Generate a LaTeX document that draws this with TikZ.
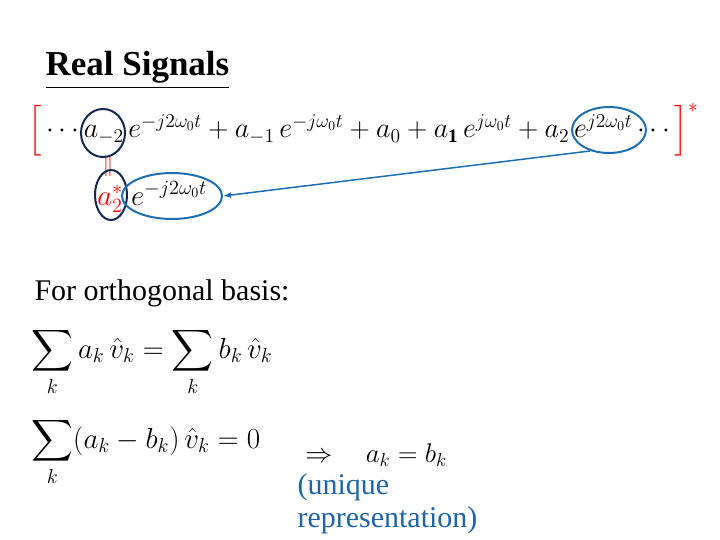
\documentclass[tikz,border=0pt]{standalone}
\usepackage{amsmath}
\usepackage{fontspec}
\setmainfont{Liberation Serif}
\usetikzlibrary{positioning,shapes.geometric,arrows.meta}
\definecolor{ringnavy}{RGB}{20,40,80}
\definecolor{ringblue}{RGB}{30,110,180}
\definecolor{uniqueblue}{RGB}{30,100,170}

\begin{document}
\begin{tikzpicture}[x=1pt,y=-1pt,
    ring/.style={draw,ellipse,line width=2pt,inner sep=0pt},
    eqn/.style={anchor=west,inner sep=0pt,font=\fontsize{20}{24}\selectfont,scale=1.4,transform shape}]
    \useasboundingbox (0,0) rectangle (720,540);

    % Title
    \node[anchor=west,font=\fontsize{35}{40}\selectfont\bfseries] (title) at (42,70) {\underline{Real Signals}};

    % Conjugated series
    \node[eqn,scale=0.97] (series) at (28,130) {$\color{red}\Big[\color{black}\cdots a_{-2}\,e^{-j2\omega_0 t}+a_{-1}\,e^{-j\omega_0 t}+a_0+a_{\mathbf 1}\,e^{j\omega_0 t}+a_2\,e^{j2\omega_0 t}\cdots\color{red}\Big]^*$};
    \node[eqn] (conj) at (97,197) {$\color{red}a_2^*\;\color{black}e^{-j2\omega_0 t}$};
    \node[text=red,font=\fontsize{20}{24}\selectfont] (eq) at (108,166) {$\|$};

    % Rings
    \node[ring,ringnavy,minimum width=44pt,minimum height=48pt] (ringA) at (103,133) {};
    \node[ring,ringblue,minimum width=74pt,minimum height=46pt] (ringB) at (609,130) {};
    \node[ring,ringnavy,minimum width=32pt,minimum height=50pt] (ringC) at (111,195) {};
    \node[ring,ringblue,minimum width=100pt,minimum height=46pt] (ringD) at (172,196) {};
    \draw[ringblue,line width=1.5pt,-{Latex[length=8pt]}] (ringB.south west) ++(8,4) coordinate (tail) -- (ringD.east);

    % Orthogonal basis
    \node[anchor=west,font=\fontsize{30}{34}\selectfont] (orth) at (31,293) {For orthogonal basis:};
    \node[eqn] (sum1) at (31,362) {$\displaystyle\sum_k a_k\,\hat v_k=\sum_k b_k\,\hat v_k$};
    \node[eqn] (sum2) at (31,452) {$\displaystyle\sum_k (a_k-b_k)\,\hat v_k=0$};
    \node[eqn,scale=0.93] (impl) at (305,455) {$\Rightarrow\quad a_k=b_k$};
    \node[anchor=north west,align=left,text=uniqueblue,font=\fontsize{30}{33}\selectfont] (uniq) at (294,470) {(unique\\representation)};
\end{tikzpicture}
\end{document}
